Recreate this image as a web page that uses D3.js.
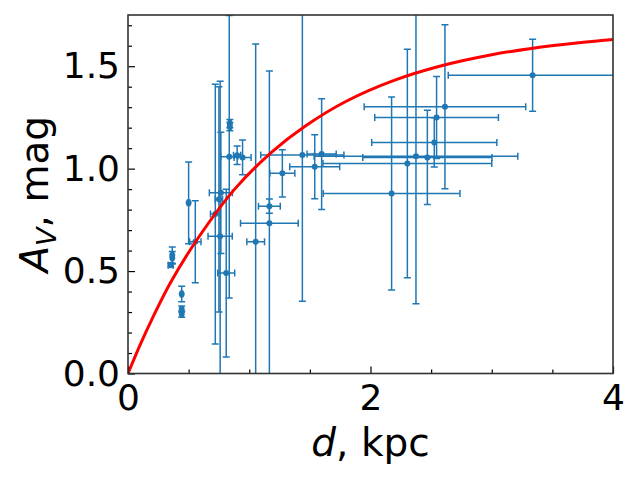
<!DOCTYPE html>
<html>
<head>
<meta charset="utf-8">
<script src="https://cdn.jsdelivr.net/npm/d3@7"></script>
<style>
  body { margin: 0; background: #fff; }
  text { font-family: "DejaVu Sans", sans-serif; }
</style>
</head>
<body>
<div id="chart"></div>
<script>
// observed stars: distance, extinction and their errors
var dist = [0.352, 0.365, 0.365, 0.443, 0.443, 0.443, 0.50, 0.555, 0.72, 0.75, 0.76, 0.766, 0.81, 0.835, 0.84, 0.84, 0.90, 0.945, 1.053, 1.166, 1.166, 1.273, 1.438, 1.54, 1.597, 2.174, 2.304, 2.375, 2.469, 2.526, 2.545, 2.614, 3.337]
var av = [0.529, 0.578, 0.565, 0.388, 0.315, 0.29, 0.833, 0.643, 0.778, 0.85, 0.67, 0.882, 0.49, 1.058, 1.22, 1.205, 1.065, 1.055, 0.643, 0.733, 0.817, 0.977, 1.066, 1.009, 1.071, 0.879, 1.025, 1.06, 1.055, 1.128, 1.25, 1.302, 1.456]
var distErr = [0.02, 0.01, 0.01, 0.01, 0.01, 0.01, 0.01, 0.047, 0.04, 0.03, 0.1, 0.095, 0.07, 0.07, 0.01, 0.01, 0.03, 0.07, 0.073, 0.238, 0.09, 0.103, 0.343, 0.206, 0.12, 0.564, 0.696, 0.84, 0.533, 0.516, 0.51, 0.666, 0.696]
var avErr = [0.01, 0.04, 0.03, 0.038, 0.015, 0.015, 0.2, 0.2, 0.634, 0.55, 0.757, 0.296, 0.41, 0.69, 0.02, 0.02, 0.045, 0.085, 0.965, 0.744, 0.035, 0.115, 0.713, 0.156, 0.27, 0.471, 0.558, 0.72, 0.23, 0.12, 0.2, 0.40, 0.176]

// model curve
var curveD = [0, 0.1, 0.2, 0.35, 0.57, 0.88, 1.19, 1.46, 1.8, 2.2, 2.57, 3.0, 3.34, 3.7, 4.0]
var curveA = [0, 0.14, 0.268, 0.443, 0.654, 0.9, 1.083, 1.207, 1.329, 1.432, 1.5, 1.556, 1.588, 1.613, 1.63]

var xTicks = [0, 2, 4]
var yTicks = [0.0, 0.5, 1.0, 1.5]

const width = 640
const height = 480
const margin = { top: 15, right: 27, bottom: 106.5, left: 128 }
const blue = '#1f77b4'

const svg = d3.select('#chart').append('svg')
    .attr('width', width)
    .attr('height', height)

const x = d3.scaleLinear().domain([0, 4]).range([margin.left, width - margin.right])
const y = d3.scaleLinear().domain([0, 1.75]).range([height - margin.bottom, margin.top])

svg.append('clipPath').attr('id', 'plot')
    .append('rect')
    .attr('x', x(0)).attr('y', y(1.75))
    .attr('width', x(4) - x(0)).attr('height', y(0) - y(1.75))

const g = svg.append('g').attr('clip-path', 'url(#plot)')

var stars = dist.map((d, i) => ({ d: d, a: av[i], dx: distErr[i], da: avErr[i] }))

// error bars
const cap = 3.5
stars.forEach(s => {
    const path = `
      M${x(s.d - s.dx)} ${y(s.a)} L${x(s.d + s.dx)} ${y(s.a)}
      M${x(s.d)} ${y(s.a - s.da)} L${x(s.d)} ${y(s.a + s.da)}
      M${x(s.d - s.dx)} ${y(s.a) - cap} L${x(s.d - s.dx)} ${y(s.a) + cap}
      M${x(s.d + s.dx)} ${y(s.a) - cap} L${x(s.d + s.dx)} ${y(s.a) + cap}
      M${x(s.d) - cap} ${y(s.a - s.da)} L${x(s.d) + cap} ${y(s.a - s.da)}
      M${x(s.d) - cap} ${y(s.a + s.da)} L${x(s.d) + cap} ${y(s.a + s.da)}`
    g.append('path')
        .attr('d', path)
        .attr('fill', 'none')
        .attr('stroke', blue)
        .attr('stroke-width', 1.5)
})

g.selectAll('circle').data(stars).join('circle')
    .attr('cx', s => x(s.d))
    .attr('cy', s => y(s.a))
    .attr('r', 3)
    .attr('fill', blue)

// red model line on top
const line = d3.line()
    .x((d, i) => x(curveD[i]))
    .y((d, i) => y(curveA[i]))
    .curve(d3.curveCatmullRom)

g.append('path')
    .attr('d', line(curveD))
    .attr('fill', 'none')
    .attr('stroke', 'red')
    .attr('stroke-width', 3)

// axes with inward ticks, only left and bottom
const xAxis = svg.append('g').attr('transform', `translate(0,${y(0)})`)
xAxis.call(d3.axisBottom(x).tickValues(d3.range(0.5, 4, 0.5).filter(v => v % 2 !== 0)).tickSize(-4).tickFormat(''))
xAxis.append('g').call(d3.axisBottom(x).tickValues(xTicks).tickSize(-7).tickPadding(11).tickFormat(d3.format('d')))

const yAxis = svg.append('g').attr('transform', `translate(${x(0)},0)`)
yAxis.call(d3.axisLeft(y).tickValues(d3.range(1, 18).map(v => v / 10).filter(v => Math.round(v * 10) % 5 !== 0)).tickSize(-4).tickFormat(''))
yAxis.append('g').call(d3.axisLeft(y).tickValues(yTicks).tickSize(-7).tickPadding(8).tickFormat(d3.format('.1f')))

svg.selectAll('.domain').remove()
svg.selectAll('.tick line').attr('stroke', '#000').attr('stroke-width', 1.2)
svg.selectAll('.tick text')
    .attr('font-size', 36)
    .attr('fill', '#000')
    .attr('font-family', 'DejaVu Sans')

// frame
svg.append('rect')
    .attr('x', x(0)).attr('y', y(1.75))
    .attr('width', x(4) - x(0)).attr('height', y(0) - y(1.75))
    .attr('fill', 'none')
    .attr('stroke', '#333')
    .attr('stroke-width', 1.6)

// axis titles
const xl = svg.append('text')
    .attr('x', (x(0) + x(4)) / 2)
    .attr('y', 456)
    .attr('text-anchor', 'middle')
    .attr('font-size', 39)
xl.append('tspan').attr('font-style', 'italic').text('d')
xl.append('tspan').text(', kpc')

const yl = svg.append('text')
    .attr('transform', `translate(48,${(y(0) + y(1.75)) / 2}) rotate(-90)`)
    .attr('text-anchor', 'middle')
    .attr('font-size', 39)
yl.append('tspan').attr('font-style', 'italic').text('A')
yl.append('tspan').attr('font-style', 'italic').attr('font-size', 27).attr('dy', 8).text('V')
yl.append('tspan').attr('dy', -8).text(', mag')
</script>
</body>
</html>
